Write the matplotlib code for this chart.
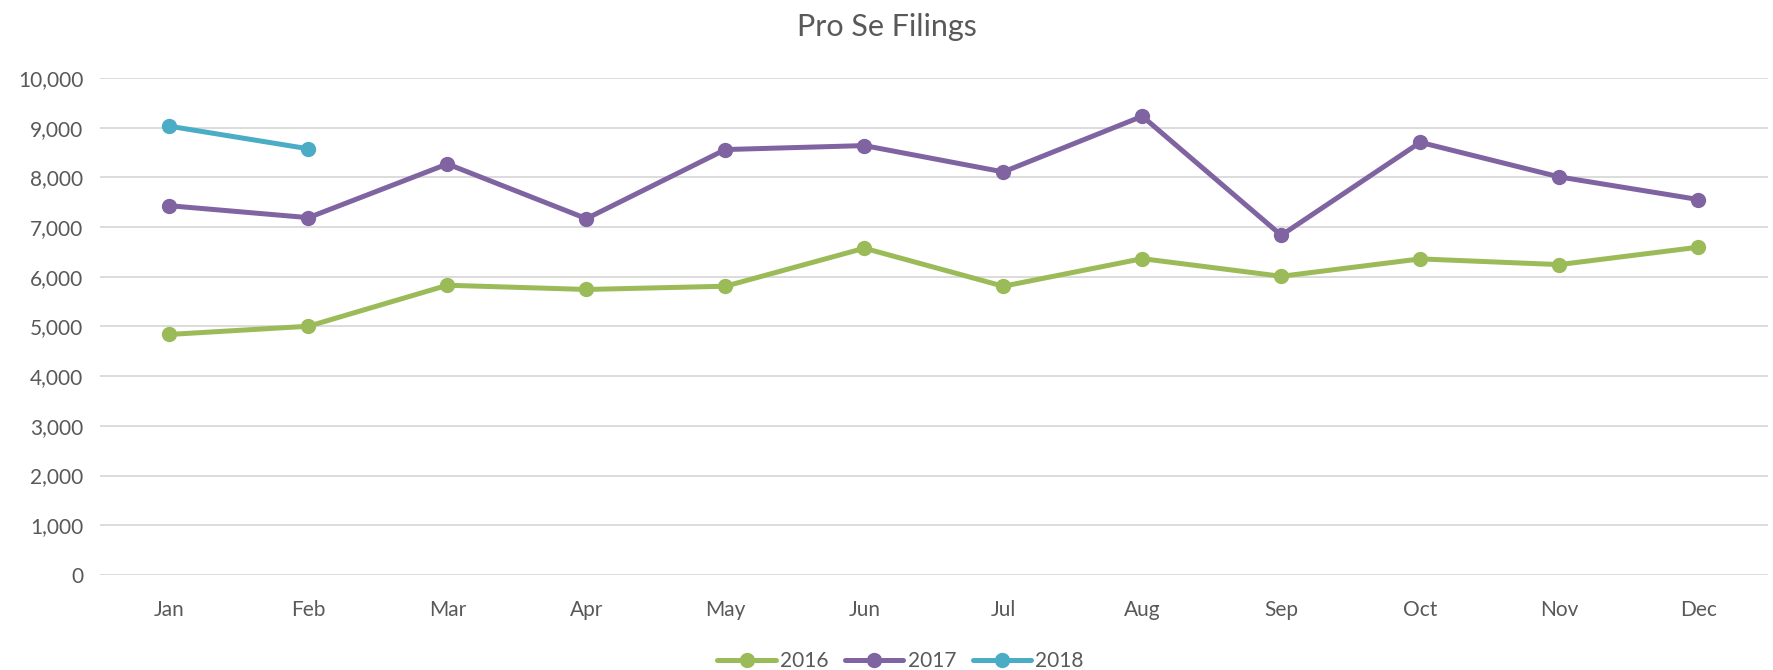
import matplotlib.pyplot as plt
from matplotlib.ticker import FuncFormatter

months = ["Jan", "Feb", "Mar", "Apr", "May", "Jun",
          "Jul", "Aug", "Sep", "Oct", "Nov", "Dec"]
filings_2016 = [4840, 5005, 5830, 5745, 5810, 6575, 5810, 6365, 6010, 6360, 6245, 6595]
filings_2017 = [7430, 7190, 8270, 7170, 8560, 8640, 8110, 9230, 6835, 8705, 8010, 7555]
filings_2018 = [9030, 8575]

series = [
    ("2016", filings_2016, "#9BBB59"),
    ("2017", filings_2017, "#8064A2"),
    ("2018", filings_2018, "#4BACC6"),
]

plt.rcParams["font.family"] = ["Lato", "DejaVu Sans"]
text_color = "#595959"

fig = plt.figure(figsize=(17.73, 6.70), dpi=100)
ax = fig.add_axes([0.0564, 0.1418, 0.9406, 0.7418])

x = list(range(len(months)))
for name, vals, color in series:
    ax.plot(x[:len(vals)], vals, color=color, lw=3.6, marker="o", ms=10,
            label=name, solid_capstyle="round", zorder=3)

ax.set_xlim(-0.5, len(months) - 0.5)
ax.set_ylim(0, 10000)
ax.set_yticks(range(0, 10001, 1000))
ax.yaxis.set_major_formatter(FuncFormatter(lambda v, p: f"{int(v):,}"))
ax.set_xticks(x)
ax.set_xticklabels(months)

ax.grid(axis="y", color="#D9D9D9", lw=1.3)
ax.set_axisbelow(True)
for s in ax.spines.values():
    s.set_visible(False)
ax.tick_params(axis="both", length=0, labelsize=15, colors=text_color)
ax.tick_params(axis="x", pad=18)
ax.tick_params(axis="y", pad=12)

fig.suptitle("Pro Se Filings", y=0.98, fontsize=22, color=text_color)

leg = ax.legend(loc="upper center", bbox_to_anchor=(0.48, -0.115), ncol=3,
                frameon=False, fontsize=15, handlelength=2.8,
                columnspacing=0.8, handletextpad=0.2)
for t in leg.get_texts():
    t.set_color(text_color)

fig.savefig("out.png", dpi=100)
